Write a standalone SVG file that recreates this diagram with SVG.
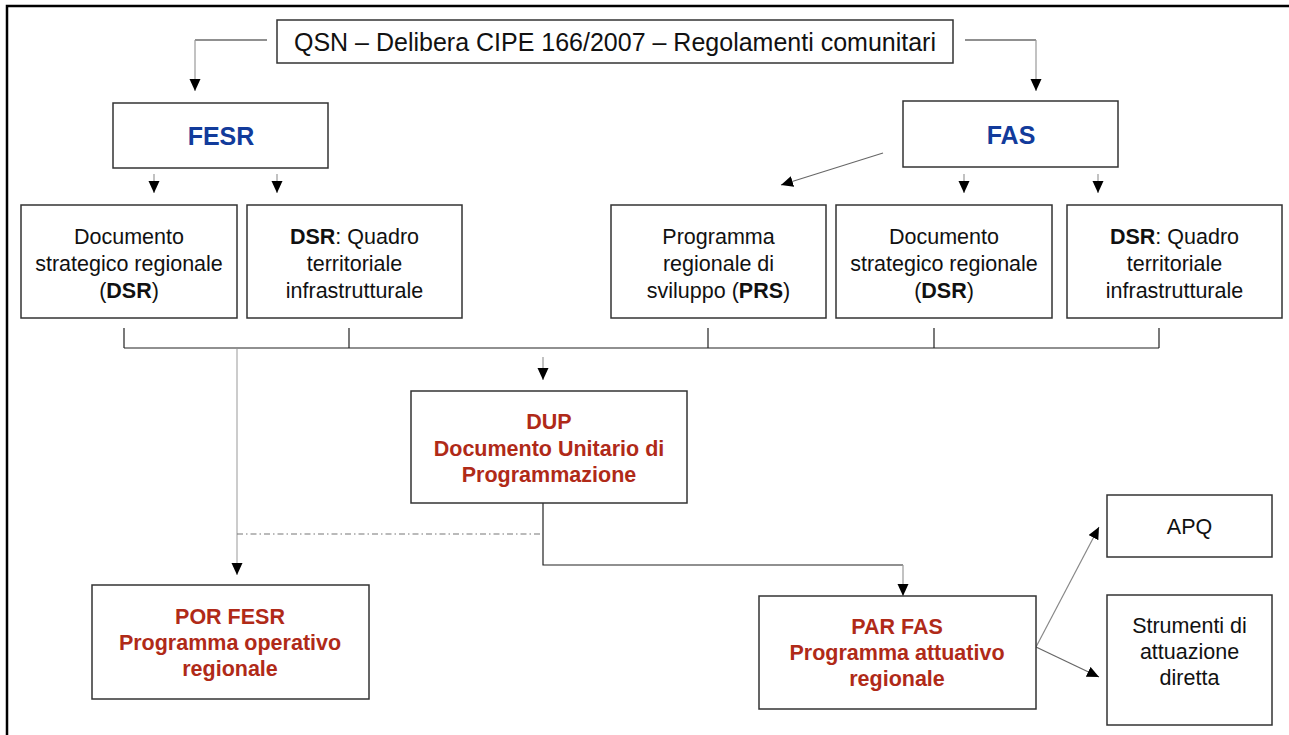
<svg xmlns="http://www.w3.org/2000/svg" width="1289" height="735" viewBox="0 0 1289 735">
<style>
.box{fill:#fff;stroke:#333;stroke-width:1.5}
.t{font-family:"Liberation Sans",Arial,sans-serif;font-size:21.5px;fill:#111;text-anchor:middle}
.b{font-weight:bold}
.blue{fill:#123b9b;font-weight:bold;font-size:25px}
.red{fill:#b02a18;font-weight:bold}
.dk{fill:none;stroke:#222;stroke-width:1.2}
.gr{fill:none;stroke:#999;stroke-width:1.2}
</style>
<defs>
<marker id="ah" markerUnits="userSpaceOnUse" markerWidth="14" markerHeight="12" refX="12" refY="5.5" orient="auto">
<path d="M0,0 L12,5.5 L0,11 z" fill="#000"/>
</marker>
</defs>
<rect x="0" y="0" width="1289" height="735" fill="#fff"/>
<path d="M7,740 L7,6 L1295,6" fill="none" stroke="#000" stroke-width="2.5"/>

<g id="connectors">
<path class="dk" d="M267,40 H195"/><path class="gr" d="M195,40 V91" marker-end="url(#ah)"/>
<path class="dk" d="M965,40 H1036"/><path class="gr" d="M1036,40 V91" marker-end="url(#ah)"/>
<path class="gr" d="M154,174 V193" marker-end="url(#ah)"/>
<path class="gr" d="M277,174 V193" marker-end="url(#ah)"/>
<path class="gr" d="M964,174 V193" marker-end="url(#ah)"/>
<path class="gr" d="M1098,174 V193" marker-end="url(#ah)"/>
<path class="gr" d="M883,153 L781,185" style="stroke:#666" marker-end="url(#ah)"/>
<path class="dk" d="M124,328 V348 M349,328 V348 M708,328 V348 M934,328 V348 M1159,328 V348 M124,348 H1159"/>
<path class="gr" d="M543,357 V380" marker-end="url(#ah)"/>
<path class="gr" d="M237,349 V575" style="stroke:#aaa" marker-end="url(#ah)"/>
<path d="M237,534 H540" fill="none" stroke="#777" stroke-width="1.2" stroke-dasharray="6,3,1.5,3"/>
<path class="dk" d="M543,503 V565 H903"/><path class="gr" d="M903,565 V596" marker-end="url(#ah)"/>
<path class="gr" d="M1036,647 L1099,527" style="stroke:#888" marker-end="url(#ah)"/>
<path class="gr" d="M1036,647 L1099,677" style="stroke:#666" marker-end="url(#ah)"/>
</g>

<g id="qsn"><rect class="box" x="277" y="20" width="676" height="43"/>
<text class="t" x="615" y="51" style="font-size:25px">QSN – Delibera CIPE 166/2007 – Regolamenti comunitari</text></g>

<g id="fesr"><rect class="box" x="113" y="103" width="215" height="65"/>
<text class="t blue" x="221" y="145">FESR</text></g>

<g id="fas"><rect class="box" x="903" y="101" width="215" height="66"/>
<text class="t blue" x="1011" y="144">FAS</text></g>

<g id="dsr1"><rect class="box" x="21" y="205" width="216" height="113"/>
<text class="t" x="129" y="244">Documento</text>
<text class="t" x="129" y="271">strategico regionale</text>
<text class="t" x="129" y="298">(<tspan class="b">DSR</tspan>)</text></g>

<g id="qti1"><rect class="box" x="247" y="205" width="215" height="113"/>
<text class="t" x="354.5" y="244"><tspan class="b">DSR</tspan>: Quadro</text>
<text class="t" x="354.5" y="271">territoriale</text>
<text class="t" x="354.5" y="298">infrastrutturale</text></g>

<g id="prs"><rect class="box" x="611" y="205" width="215" height="113"/>
<text class="t" x="718.5" y="244">Programma</text>
<text class="t" x="718.5" y="271">regionale di</text>
<text class="t" x="718.5" y="298">sviluppo (<tspan class="b">PRS</tspan>)</text></g>

<g id="dsr2"><rect class="box" x="836" y="205" width="216" height="113"/>
<text class="t" x="944" y="244">Documento</text>
<text class="t" x="944" y="271">strategico regionale</text>
<text class="t" x="944" y="298">(<tspan class="b">DSR</tspan>)</text></g>

<g id="qti2"><rect class="box" x="1067" y="205" width="215" height="113"/>
<text class="t" x="1174.5" y="244"><tspan class="b">DSR</tspan>: Quadro</text>
<text class="t" x="1174.5" y="271">territoriale</text>
<text class="t" x="1174.5" y="298">infrastrutturale</text></g>

<g id="dup"><rect class="box" x="411" y="391" width="276" height="112"/>
<text class="t red" x="549" y="429">DUP</text>
<text class="t red" x="549" y="456">Documento Unitario di</text>
<text class="t red" x="549" y="482">Programmazione</text></g>

<g id="porfesr"><rect class="box" x="92" y="585" width="277" height="114"/>
<text class="t red" x="230" y="624">POR FESR</text>
<text class="t red" x="230" y="650">Programma operativo</text>
<text class="t red" x="230" y="676">regionale</text></g>

<g id="parfas"><rect class="box" x="759" y="596" width="277" height="113"/>
<text class="t red" x="897" y="634">PAR FAS</text>
<text class="t red" x="897" y="660">Programma attuativo</text>
<text class="t red" x="897" y="686">regionale</text></g>

<g id="apq"><rect class="box" x="1107" y="495" width="165" height="62"/>
<text class="t" x="1189.5" y="534">APQ</text></g>

<g id="strumenti"><rect class="box" x="1107" y="595" width="165" height="130"/>
<text class="t" x="1189.5" y="633">Strumenti di</text>
<text class="t" x="1189.5" y="659">attuazione</text>
<text class="t" x="1189.5" y="685">diretta</text></g>
</svg>
